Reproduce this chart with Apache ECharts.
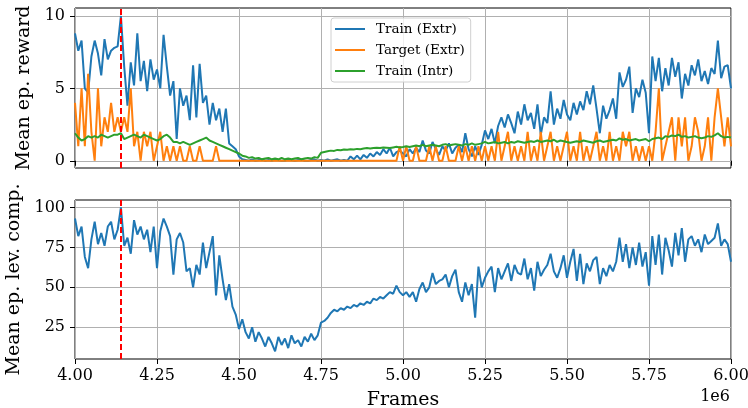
<!DOCTYPE html>
<html>
<head>
<meta charset="utf-8">
<script src="https://cdn.jsdelivr.net/npm/echarts@6/dist/echarts.min.js"></script>
<style>
  html, body { margin: 0; padding: 0; background: #fff; }
  #chart { width: 748px; height: 408px; }
</style>
</head>
<body>
<div id="chart"></div>
<script>
// frames axis: one sample every 10k frames from 4.0e6 to 6.0e6
const frameStart = 4000000;
const frameStep = 10000;
const switchFrame = 4140000;   // red dashed marker
const rewardTicks = [0, 5, 10];
const compTicks = [25, 50, 75, 100];

const trainExtr = [
  8.8, 7.6, 8.3, 5.0, 4.7, 7.2, 8.3, 7.4, 5.9, 8.4, 7.0, 7.6, 7.8, 7.9, 10.0,
  6.5, 3.8, 6.8, 5.2, 8.8, 5.5, 6.9, 4.8, 7.0, 5.6, 6.3, 5.0, 8.7, 6.5, 4.5, 5.5,
  1.5, 5.0, 3.8, 4.5, 2.8, 6.6, 3.0, 6.7, 4.0, 4.5, 2.5, 4.0, 2.8, 3.6, 2.0, 3.6, 1.2, 1.0, 0.8, 0.3,
  0.1, 0.05, 0.0, 0.1, 0.0, 0.05, 0.1, 0.0, 0.05, 0.0, 0.1, 0.05, 0.0, 0.0, 0.1, 0.05, 0.0,
  0.05, 0.1, 0.0, 0.0, 0.05, 0.1, 0.0, 0.05, 0.0, 0.1, 0.0, 0.05, 0.1, 0.0, 0.05, 0.0,
  0.3, 0.1, 0.35, 0.1, 0.4, 0.2,
  0.5, 0.3, 0.6, 0.4, 0.8, 0.5, 0.9, 0.3, 0.6, 0.7, 0.5,
  0.3, 0.8, 0.5, 0.9, 0.6, 1.4, 0.7, 0.5, 1.3, 0.8, 0.4, 1.0, 0.7, 1.2, 0.5, 0.9, 1.1, 0.6, 1.9, 0.8, 0.3, 1.0, 0.4, 1.1, 2.1,
  1.5, 2.2, 1.2, 2.4, 3.0, 2.3, 3.2, 2.6, 1.9, 3.4, 2.5, 3.9, 2.8, 3.3, 2.2, 3.9, 1.8, 3.0, 2.6, 4.8, 2.5, 3.6, 2.9, 4.2, 3.2,
  2.8, 4.0, 3.2, 4.1, 3.5, 4.8, 3.9, 5.2, 3.6, 1.9, 3.8, 2.9, 3.5, 4.3, 2.9, 6.1, 5.1, 5.6, 6.5, 3.3, 5.0, 4.4, 5.6, 4.7, 1.9,
  7.2, 5.5, 7.1, 4.8, 6.4, 5.2, 7.1, 5.8, 6.8, 4.3, 6.0, 5.2, 6.6, 5.9, 7.0, 5.5, 6.2, 5.3, 6.4, 6.0, 8.3, 5.7, 6.5, 6.6, 5.0
];

const targetExtr = [
  4, 1, 5, 1, 6, 2, 0, 5, 1, 3, 2, 4, 2, 3, 2,
  3, 2, 5, 1, 2, 0, 2, 1, 2, 0, 1, 2, 0, 1, 0, 1,
  0, 1, 0, 0, 1, 0, 0, 1, 0, 0, 0, 0, 1, 0, 0, 0, 0,
  0, 0, 0, 0, 0, 0, 0, 0, 0, 0, 0, 0, 0, 0, 0, 0, 0, 0, 0, 0, 0, 0, 0, 0, 0, 0,
  0, 0, 0, 0, 0, 0, 0, 0, 0, 0, 0, 0, 0, 0, 0, 0, 0, 0, 0, 0, 0, 0, 0, 0, 0,
  1,
  0, 1, 0, 0, 1, 0, 0, 0, 1, 0, 1, 0, 0, 1, 0, 0, 0, 1, 0, 1, 0, 1, 0, 1, 0, 1,
  0, 1, 0, 2, 0, 1, 2, 0, 1, 0, 1, 0, 2, 0, 1, 0, 2, 0, 1, 2, 0, 1, 0, 1, 2,
  0, 1, 0, 2, 0, 1, 0, 1, 2, 0, 1, 0, 2, 0, 1, 0, 2, 1, 2, 0, 1, 0, 1, 0, 1,
  0, 2, 5, 0, 1, 2, 3, 0, 3, 1, 3, 0, 1, 3, 2, 0, 1, 3, 0, 3, 5, 3, 1, 3, 1
];

const trainIntr = [
  1.9, 1.6, 1.4, 1.5, 1.7, 1.6, 1.7, 1.6, 1.8, 1.7, 1.6, 1.7, 1.8, 1.8, 1.9,
  1.5, 1.6, 1.7, 1.8, 1.7, 1.6, 1.8, 1.7, 1.6, 1.5, 1.4, 1.5, 1.7, 1.8, 1.6, 1.3,
  1.3, 1.2, 1.3, 1.2, 1.1, 1.2, 1.3, 1.4, 1.5, 1.6, 1.4, 1.3, 1.2, 1.1, 1.0, 0.9, 0.8, 0.7, 0.6, 0.5,
  0.35, 0.3, 0.2, 0.25, 0.15, 0.2, 0.1, 0.15, 0.2, 0.1, 0.15, 0.1, 0.2, 0.1, 0.15, 0.1, 0.15, 0.2, 0.1, 0.15, 0.2, 0.15, 0.25, 0.2,
  0.55, 0.6, 0.65, 0.7, 0.68, 0.75, 0.72, 0.78, 0.76, 0.8, 0.78, 0.82, 0.8, 0.85, 0.88, 0.84, 0.88, 0.9, 0.88, 0.92, 0.9, 0.88, 0.92, 0.96, 0.92, 0.95,
  1.0, 0.95, 1.0, 1.05, 1.0, 1.1, 1.0, 1.05, 1.1, 1.05, 1.0, 1.1, 1.15, 1.05, 1.1, 1.15, 1.1, 1.05, 1.15, 1.1, 1.2, 1.1, 1.15, 1.2, 1.3,
  1.2, 1.25, 1.3, 1.2, 1.25, 1.3, 1.2, 1.3, 1.25, 1.35, 1.3, 1.25, 1.3, 1.35, 1.3, 1.4, 1.3, 1.35, 1.4, 1.35, 1.45, 1.3, 1.4, 1.35, 1.3,
  1.25, 1.3, 1.35, 1.3, 1.4, 1.35, 1.3, 1.25, 1.35, 1.4, 1.3, 1.35, 1.4, 1.45, 1.4, 1.55, 1.45, 1.5, 1.4, 1.45, 1.5, 1.4, 1.45, 1.5, 1.35,
  1.5, 1.55, 1.6, 1.5, 1.7, 1.65, 1.75, 1.7, 1.8, 1.65, 1.7, 1.6, 1.65, 1.7, 1.6, 1.55, 1.6, 1.7, 1.65, 1.75, 1.9, 1.7, 1.6, 1.65, 1.6
];

const levComp = [
  93, 82, 88, 69, 62, 80, 91, 77, 84, 76, 88, 91, 80, 86, 100,
  76, 81, 71, 92, 83, 88, 80, 86, 72, 88, 62, 85, 93, 88, 82, 58,
  80, 84, 78, 60, 62, 50, 64, 58, 78, 62, 72, 82, 45, 70, 55, 42, 52, 38, 33, 24,
  30, 22, 18, 25, 16, 22, 18, 13, 19, 15, 10, 19, 14, 18, 12, 20, 15, 17, 13, 19, 16, 21, 17, 20,
  28, 29, 31, 34, 36, 35, 37, 36, 38, 37, 39, 38, 40, 39, 41, 40, 43, 42, 44, 43, 45, 47, 46, 51, 47, 45,
  47, 44, 47, 41, 49, 53, 47, 50, 59, 52, 54, 55, 58, 50, 57, 61, 47, 41, 53, 45, 52, 31, 63, 50, 56,
  60, 63, 47, 62, 55, 60, 65, 54, 64, 59, 58, 68, 55, 62, 48, 66, 57, 61, 64, 71, 60, 56, 62, 70, 56,
  66, 74, 54, 71, 52, 65, 60, 67, 69, 52, 62, 57, 64, 60, 66, 81, 66, 77, 62, 75, 64, 78, 63, 72, 51,
  82, 64, 83, 58, 81, 73, 63, 84, 70, 87, 66, 80, 82, 76, 80, 72, 83, 77, 79, 81, 90, 76, 80, 77, 66
];

const frames = trainExtr.map((_, i) => frameStart + i * frameStep);
const pairs = vals => vals.map((v, i) => [frames[i], v]);

const font = 'DejaVu Serif';
const gridColor = '#b0b0b0';

function xAxisFor(idx, showLabels) {
  return {
    gridIndex: idx, type: 'value', min: 4000000, max: 6000000, interval: 250000,
    axisLine: { show: false },
    axisTick: { show: true, length: 5, lineStyle: { color: '#000', width: 1 } },
    axisLabel: {
      show: showLabels, margin: 9, color: '#000', fontFamily: font, fontSize: 16,
      formatter: v => (v / 1e6).toFixed(2)
    },
    splitLine: { show: true, lineStyle: { color: gridColor, width: 1 } },
    name: showLabels ? 'Frames' : '', nameLocation: 'middle', nameGap: 32,
    nameTextStyle: { color: '#000', fontFamily: font, fontSize: 19 }
  };
}

function yAxisFor(idx, min, max, ticks, name, gap) {
  return {
    gridIndex: idx, type: 'value', min: min, max: max,
    axisLine: { show: false },
    axisTick: { show: true, length: 5, customValues: ticks, lineStyle: { color: '#000', width: 1 } },
    axisLabel: { customValues: ticks, margin: 10, color: '#000', fontFamily: font, fontSize: 16 },
    splitLine: { show: true, lineStyle: { color: gridColor, width: 1 } },
    name: name, nameLocation: 'middle', nameGap: gap,
    nameTextStyle: { color: '#000', fontFamily: font, fontSize: 19 }
  };
}

const switchLine = {
  symbol: 'none', silent: true, label: { show: false },
  lineStyle: { color: '#ff0000', type: [6, 3], width: 2 },
  data: [{ xAxis: switchFrame }]
};

function line(name, data, color, xi, extra) {
  return Object.assign({
    name: name, type: 'line', xAxisIndex: xi, yAxisIndex: xi,
    data: pairs(data), showSymbol: false, symbol: 'none',
    lineStyle: { color: color, width: 2 }, itemStyle: { color: color }
  }, extra || {});
}

const legendIcon = 'path://M0,0 L30,0 L30,2 L0,2 Z';

const chart = echarts.init(document.getElementById('chart'));
chart.setOption({
  animation: false,
  backgroundColor: '#fff',
  grid: [
    { left: 75, top: 8, width: 656, height: 160, outerBoundsMode: 'none', containLabel: false,
      show: true, borderColor: '#000', borderWidth: 1, backgroundColor: 'transparent' },
    { left: 75, top: 200, width: 656, height: 159, outerBoundsMode: 'none', containLabel: false,
      show: true, borderColor: '#000', borderWidth: 1, backgroundColor: 'transparent' }
  ],
  xAxis: [xAxisFor(0, false), xAxisFor(1, true)],
  yAxis: [
    yAxisFor(0, -0.5, 10.55, rewardTicks, 'Mean ep. reward', 31),
    yAxisFor(1, 5.2, 104.6, compTicks, 'Mean ep. lev. comp.', 42)
  ],
  legend: {
    data: ['Train (Extr)', 'Target (Extr)', 'Train (Intr)'].map(n => ({ name: n, icon: legendIcon })),
    orient: 'vertical', left: 331, top: 18,
    itemWidth: 30, itemHeight: 14, itemGap: 7, symbolKeepAspect: true,
    padding: [4, 6, 4, 4],
    backgroundColor: 'rgba(255,255,255,0.8)', borderColor: '#d0d0d0', borderWidth: 1, borderRadius: 3,
    textStyle: { color: '#000', fontFamily: font, fontSize: 13.5, padding: [0, 0, 0, 6] }
  },
  graphic: [
    { type: 'text', right: 18, top: 389, style: { text: '1e6', fill: '#000', font: '16px "DejaVu Serif"' } }
  ],
  series: [
    line('Train (Extr)', trainExtr, '#1f77b4', 0, { markLine: switchLine }),
    line('Target (Extr)', targetExtr, '#ff7f0e', 0),
    line('Train (Intr)', trainIntr, '#2ca02c', 0),
    line('Lev comp', levComp, '#1f77b4', 1, { markLine: switchLine })
  ]
});
</script>
</body>
</html>
